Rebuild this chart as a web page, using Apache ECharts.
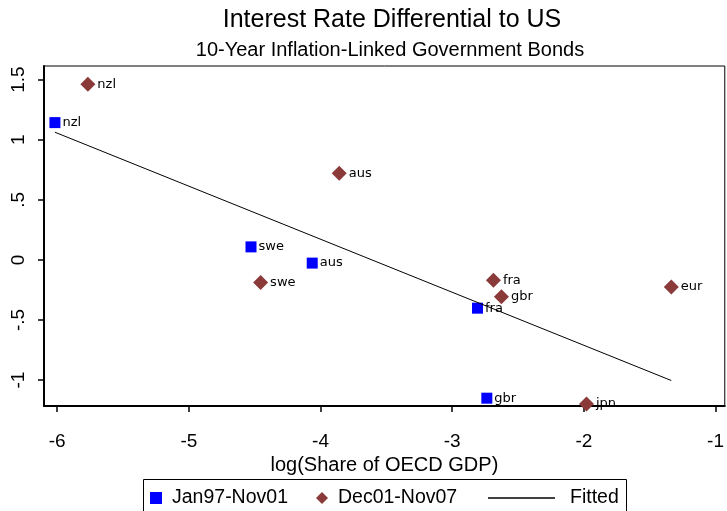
<!DOCTYPE html>
<html><head><meta charset="utf-8">
<script src="https://cdn.jsdelivr.net/npm/echarts@6/dist/echarts.min.js"></script>
<style>html,body{margin:0;padding:0;background:#fff}#c{width:727px;height:511px}</style>
</head><body><div id="c"></div>
<script>
const blueNames = ['nzl','swe','aus','fra','gbr'];
const blueX = [-6.017,-4.528,-4.063,-2.808,-2.737];
const blueY = [1.142,0.108,-0.027,-0.402,-1.151];
const redNames = ['nzl','aus','swe','fra','gbr','eur','jpn'];
const redX = [-5.767,-3.858,-4.455,-2.687,-2.626,-1.336,-1.980];
const redY = [1.462,0.721,-0.189,-0.169,-0.308,-0.225,-1.200];
const fitX = [-6.017,-1.336];
const fitY = [1.062,-1.004];
const xTicks = [-6,-5,-4,-3,-2,-1];
const xTickLabels = ['-6','-5','-4','-3','-2','-1'];
const yTicks = [-1,-0.5,0,0.5,1,1.5];
const yTickLabels = ['-1','-.5','0','.5','1','1.5'];

const FONT = 'Liberation Sans, Arial, sans-serif';
const chart = echarts.init(document.getElementById('c'));
const lbl = (names) => ({show:true, position:'right', distance:2, color:'#000', fontSize:13,
  fontFamily:'DejaVu Sans, Verdana, sans-serif', formatter:p=>names[p.dataIndex]});
chart.setOption({
  animation:false,
  backgroundColor:'#fff',
  title:[
    {text:'Interest Rate Differential to US', left:387, textAlign:'center', top:3,
     textStyle:{fontFamily:FONT, fontWeight:'normal', fontSize:25, color:'#000'}},
    {text:'10-Year Inflation-Linked Government Bonds', left:385, textAlign:'center', top:35,
     textStyle:{fontFamily:FONT, fontWeight:'normal', fontSize:20, color:'#000'}}
  ],
  graphic:[{type:'rect', left:143, top:479, shape:{width:483, height:40},
    style:{fill:'#fff', stroke:'#000', lineWidth:1}, z:-1}],
  legend:[
    {left:145, top:483, itemWidth:12, itemHeight:12, itemGap:28,
     textStyle:{fontFamily:FONT, fontSize:19.5, color:'#000', padding:[0,0,0,5]},
     data:[{name:'Jan97-Nov01', icon:'rect'},{name:'Dec01-Nov07', icon:'diamond'}]},
    {left:483, top:483, itemWidth:67, itemHeight:1.5, itemGap:10,
     textStyle:{fontFamily:FONT, fontSize:19.5, color:'#000', padding:[0,0,0,10]},
     data:[{name:'Fitted', icon:'rect'}]}
  ],
  grid:{left:44, top:66, right:0, bottom:105, show:true, borderColor:'#000', borderWidth:1, backgroundColor:'#fff'},
  xAxis:{type:'value', min:-6.1, max:-0.93,
    name:'log(Share of OECD GDP)', nameLocation:'middle', nameGap:37,
    nameTextStyle:{fontFamily:FONT, fontSize:20, color:'#000'},
    axisLine:{show:true, onZero:false, lineStyle:{color:'#000', width:2}},
    axisTick:{show:true, length:6, lineStyle:{color:'#000', width:1.5}, customValues:xTicks},
    axisLabel:{customValues:xTicks, margin:26, fontFamily:FONT, fontSize:19, color:'#000',
      formatter:v=>xTickLabels[xTicks.indexOf(v)]},
    splitLine:{show:false}},
  yAxis:{type:'value', min:-1.216, max:1.613,
    axisLine:{show:true, onZero:false, lineStyle:{color:'#000', width:2}},
    axisTick:{show:true, length:6, lineStyle:{color:'#000', width:1.5}, customValues:yTicks},
    axisLabel:{customValues:yTicks, rotate:90, margin:16, fontFamily:FONT, fontSize:19, color:'#000',
      formatter:v=>yTickLabels[yTicks.indexOf(v)]},
    splitLine:{show:false}},
  series:[
    {name:'Fitted', type:'line', symbol:'none', data:fitX.map((x,i)=>[x,fitY[i]]),
     lineStyle:{color:'#000', width:1}, itemStyle:{color:'#000'}, z:3},
    {name:'Jan97-Nov01', type:'scatter', symbol:'rect', symbolSize:11,
     itemStyle:{color:'#0000ff', opacity:1}, data:blueX.map((x,i)=>[x,blueY[i]]), label:lbl(blueNames), z:2},
    {name:'Dec01-Nov07', type:'scatter', symbol:'diamond', symbolSize:15,
     itemStyle:{color:'#8b3a3a', opacity:1}, data:redX.map((x,i)=>[x,redY[i]]), label:lbl(redNames), z:2}
  ]
});
</script></body></html>
